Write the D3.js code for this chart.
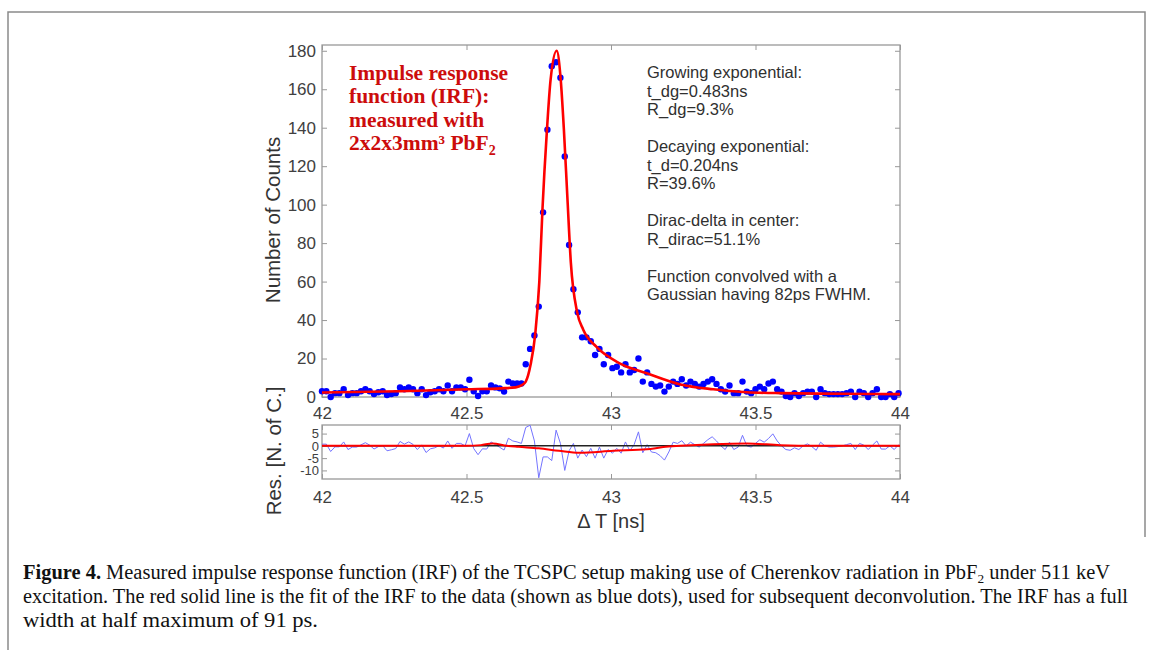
<!DOCTYPE html>
<html>
<head>
<meta charset="utf-8">
<title>IRF fit</title>
<script src="https://d3js.org/d3.v7.min.js"></script>
<style>
  body { margin: 0; background: #fff; }
  svg { display: block; }
  .tick text { font-family: "Liberation Sans", Arial, sans-serif; fill: #404040; }
  .tick line { stroke: #999; }
</style>
</head>
<body>
<svg id="visual" width="1153" height="650"></svg>
<script>
// histogram bins: start and width in ns
const binStart = 42, binWidth = 0.015;

// measured counts per bin (blue dots)
const counts = [
  3, 3, 0, 2, 2, 4, 1, 2, 2, 3,
  4, 3, 1.5, 2.5, 3, 1, 1.5, 2, 5, 4,
  5, 4, 2, 4, 1, 2.5, 3, 4, 3, 6,
  3, 5, 5, 4, 9, 3, 0.5, 3, 3, 6,
  5, 4.5, 2.8, 8, 7, 7, 7,
  17, 25, 32, 47, 96, 139, 172, 174, 166, 125, 79, 56, 44,
  31, 31, 29, 21.8, 25, 17, 21.8, 15, 15.7, 12.8,
  17, 12.8, 14, 20, 8, 12.8, 6.8, 5.4, 6, 2.8,
  5.4, 8, 6.8, 9.2, 6, 8, 6.8, 5.4, 6.8, 8,
  9.2, 6.8, 4, 2.8, 6, 2, 2, 8, 2.8, 2,
  4, 5.4, 4, 7, 8, 4, 2.8, 0.5, 0, 2,
  0.5, 2, 2.8, 2.8, 0, 4, 2, 1.5, 1.5, 1.5,
  1.5, 2, 2.8, 0, 2.8, 2, 0, 2, 4, 0,
  0, 1.5, 0, 2
];

// fitted IRF (red line)
const fitT = [42.0, 42.27, 42.5, 42.62, 42.67, 42.69, 42.705, 42.722, 42.738, 42.752, 42.763,
  42.778, 42.791, 42.812, 42.826, 42.837, 42.849, 42.861, 42.883, 42.904, 42.95, 43.03,
  43.124, 43.24, 43.354, 43.47, 43.585, 43.8, 44.0];
const fitV = [2.3, 3, 4, 4.5, 5, 6, 8, 17, 33, 60, 98,
  138, 165, 180, 165, 139, 104, 70, 44, 35, 26, 17.5,
  12.3, 6.5, 4, 2.5, 2, 1.7, 1.5];

// residuals per bin (thin blue line)
const resid = [
  0.7, 0.7, -2.3, -0.4, -0.4, 1.6, -1.5, -0.5, -0.5, 0.4,
  1.3, 0.3, -1.3, -0.3, 0.1, -2, -1.6, -1.1, 1.8, 0.7,
  1.6, 0.6, -1.5, 0.4, -2.7, -1.2, -0.8, 0.1, -0.9, 2,
  -1, 1, 1, 0, 5, -1.1, -3.6, -1.2, -1.3, 1.6,
  0.5, -0.6, -1.7, 3.1, 2, 1.6, 1, 7.5, 8.4, 2,
  -13, -4.5, -4.5, -6, 6.4, 1, -10, -2, 1, -5,
  -1.7, -4.4, -1, -5, -0.5, -5, -1.5, -3, -1, -3,
  1.6, -2, 0.5, 5.7, -2.8, 0.5, -2.5, -2.8, -4, -5.8,
  -2.5, 1.5, 1, 2.1, 0, 1.5, 0.5, -0.5, 1, 2.5,
  3.7, 2, 0, -1.5, 1.5, -1.5, -0.5, 4.3, 0, -0.5,
  1, 2.5, 1.5, 3, 4.9, 2, 0, -1.5, -1.8, -0.8,
  -1.5, 0, 0.8, -0.3, -1.8, 1.5, 0, -0.5, -0.5, -0.3,
  0, 0.5, 1, -1.5, 1, 0.3, -1.5, 0.3, 2, -1.3,
  -1.3, 0, -1.5, 0.5
];

// smoothed residual (red line in lower panel)
const resFitT = [42.0, 42.5, 42.55, 42.59, 42.64, 42.68, 42.75, 42.82, 42.89, 43.008, 43.124,
  43.181, 43.239, 43.354, 43.47, 43.585, 43.7, 44.0];
const resFitV = [0, 0, 0.3, 1, 0, -0.4, -1, -2, -2.8, -2, -1.4,
  -0.5, 0, 0.7, 1, 0.3, 0, 0];

const xTicks = [42, 42.5, 43, 43.5, 44];
const yTicks = [0, 20, 40, 60, 80, 100, 120, 140, 160, 180];
const rTicks = [5, 0, -5, -10];

const noteLines = [
  ["Growing exponential:", "t_dg=0.483ns", "R_dg=9.3%"],
  ["Decaying exponential:", "t_d=0.204ns", "R=39.6%"],
  ["Dirac-delta in center:", "R_dirac=51.1%"],
  ["Function convolved with a", "Gaussian having 82ps FWHM."]
];

const svg = d3.select("#visual");
const box = { left: 322, right: 900, top: 45, bottom: 397 };
const rbox = { top: 425, bottom: 479 };

const times = counts.map((_, i) => binStart + i * binWidth);

const x = d3.scaleLinear().domain([42, 44]).range([box.left, box.right]);
const y = d3.scaleLinear().domain([0, 183]).range([box.bottom, box.top]);
const yr = d3.scaleLinear().domain([-13.5, 8.5]).range([rbox.bottom, rbox.top]);

// figure frame
svg.append("path")
  .attr("d", "M8,650 L8,12 L1145,12 L1145,537")
  .attr("fill", "none").attr("stroke", "#8a8a8a").attr("stroke-width", 1.5);

const fmt = d => String(d);  // plain hyphen minus, as in the figure
function noDomain(g) { g.select(".domain").remove(); }

// ---- main panel ----
svg.append("g").attr("transform", `translate(0,${box.bottom})`)
  .call(d3.axisBottom(x).tickValues(xTicks).tickSize(-5).tickPadding(10).tickFormat(fmt))
  .call(noDomain).selectAll("text").style("font-size", "17px");
svg.append("g").attr("transform", `translate(0,${box.top})`)
  .call(d3.axisTop(x).tickValues(xTicks).tickSize(-5).tickFormat(""))
  .call(noDomain);
svg.append("g").attr("transform", `translate(${box.left},0)`)
  .call(d3.axisLeft(y).tickValues(yTicks).tickSize(-5).tickPadding(6).tickFormat(fmt))
  .call(noDomain).selectAll("text").style("font-size", "17px");
svg.append("g").attr("transform", `translate(${box.right},0)`)
  .call(d3.axisRight(y).tickValues(yTicks).tickSize(-5).tickFormat(""))
  .call(noDomain);

svg.append("rect")
  .attr("x", box.left).attr("y", box.top)
  .attr("width", box.right - box.left).attr("height", box.bottom - box.top)
  .attr("fill", "none").attr("stroke", "#999").attr("stroke-width", 1.3);

svg.append("g").selectAll("circle")
  .data(counts)
  .enter()
  .append("circle")
  .attr("cx", (d, i) => x(times[i]))
  .attr("cy", d => y(d))
  .attr("r", 3.2)
  .style("fill", "#0000ff");

const fitLine = d3.line().x((d, i) => x(fitT[i])).y(d => y(d)).curve(d3.curveMonotoneX);
svg.append("path")
  .datum(fitV)
  .attr("d", fitLine)
  .attr("fill", "none").attr("stroke", "#ff0000").attr("stroke-width", 2.6);

// red title
const title = svg.append("text")
  .attr("font-family", "'Liberation Serif', 'Times New Roman', serif")
  .attr("font-weight", "bold").attr("font-size", 21.5).attr("fill", "#cc0c0c");
["Impulse response", "function (IRF):", "measured with"].forEach((t, i) => {
  title.append("tspan").attr("x", 349).attr("y", 80 + i * 23.3).text(t);
});
title.append("tspan").attr("x", 349).attr("y", 80 + 3 * 23.3).text("2x2x3mm³ PbF");
title.append("tspan").attr("dy", 5).attr("font-size", 14).text("2");

// notes on the right
const notes = svg.append("text")
  .attr("font-family", "'Liberation Sans', Arial, sans-serif")
  .attr("font-size", 16.5).attr("fill", "#303030");
let ny = 78;
noteLines.forEach(block => {
  block.forEach(t => {
    notes.append("tspan").attr("x", 647).attr("y", ny).text(t);
    ny += 18.5;
  });
  ny += 18.5;
});

svg.append("text")
  .attr("transform", "translate(272,220) rotate(-90)")
  .attr("text-anchor", "middle").attr("dominant-baseline", "central")
  .attr("font-family", "'Liberation Sans', Arial, sans-serif")
  .attr("font-size", 20.5).attr("fill", "#333")
  .text("Number of Counts");

// ---- residual panel ----
svg.append("g").attr("transform", `translate(0,${rbox.bottom})`)
  .call(d3.axisBottom(x).tickValues(xTicks).tickSize(-5).tickPadding(12).tickFormat(fmt))
  .call(noDomain).selectAll("text").style("font-size", "17px");
svg.append("g").attr("transform", `translate(0,${rbox.top})`)
  .call(d3.axisTop(x).tickValues(xTicks).tickSize(-5).tickFormat(""))
  .call(noDomain);
svg.append("g").attr("transform", `translate(${box.left},0)`)
  .call(d3.axisLeft(yr).tickValues(rTicks).tickSize(-5).tickPadding(3).tickFormat(fmt))
  .call(noDomain).selectAll("text").style("font-size", "13px");
svg.append("g").attr("transform", `translate(${box.right},0)`)
  .call(d3.axisRight(yr).tickValues(rTicks).tickSize(-5).tickFormat(""))
  .call(noDomain);

svg.append("rect")
  .attr("x", box.left).attr("y", rbox.top)
  .attr("width", box.right - box.left).attr("height", rbox.bottom - rbox.top)
  .attr("fill", "none").attr("stroke", "#999").attr("stroke-width", 1.3);

const resLine = d3.line().x((d, i) => x(times[i])).y(d => yr(d));
svg.append("path")
  .datum(resid)
  .attr("d", resLine)
  .attr("fill", "none").attr("stroke", "#7474ff").attr("stroke-width", 1);

svg.append("line")
  .attr("x1", x(42)).attr("x2", x(44))
  .attr("y1", yr(0)).attr("y2", yr(0))
  .attr("stroke", "#222").attr("stroke-width", 1.5);

const resFitLine = d3.line().x((d, i) => x(resFitT[i])).y(d => yr(d)).curve(d3.curveMonotoneX);
svg.append("path")
  .datum(resFitV)
  .attr("d", resFitLine)
  .attr("fill", "none").attr("stroke", "#ff0000").attr("stroke-width", 2);

svg.append("text")
  .attr("transform", "translate(273,451) rotate(-90)")
  .attr("text-anchor", "middle").attr("dominant-baseline", "central")
  .attr("font-family", "'Liberation Sans', Arial, sans-serif")
  .attr("font-size", 20.5).attr("fill", "#333")
  .text("Res. [N. of C.]");

svg.append("text")
  .attr("x", 611).attr("y", 528)
  .attr("text-anchor", "middle")
  .attr("font-family", "'Liberation Sans', Arial, sans-serif")
  .attr("font-size", 20).attr("fill", "#333")
  .text("Δ T [ns]");

// ---- caption ----
const capFont = "'Liberation Serif', 'Times New Roman', serif";
const cap1 = svg.append("text")
  .attr("x", 23).attr("y", 579)
  .attr("font-family", capFont).attr("font-size", 20).attr("fill", "#111")
  .attr("textLength", 1087).attr("lengthAdjust", "spacingAndGlyphs");
cap1.append("tspan").attr("font-weight", "bold").text("Figure 4.");
cap1.append("tspan").text(" Measured impulse response function (IRF) of the TCSPC setup making use of Cherenkov radiation in PbF");
cap1.append("tspan").attr("dy", 4).attr("font-size", 13).text("2");
cap1.append("tspan").attr("dy", -4).text(" under 511 keV");

svg.append("text")
  .attr("x", 23).attr("y", 603)
  .attr("font-family", capFont).attr("font-size", 20).attr("fill", "#111")
  .attr("textLength", 1105).attr("lengthAdjust", "spacingAndGlyphs")
  .text("excitation. The red solid line is the fit of the IRF to the data (shown as blue dots), used for subsequent deconvolution. The IRF has a full");

svg.append("text")
  .attr("x", 23).attr("y", 627)
  .attr("font-family", capFont).attr("font-size", 20).attr("fill", "#111")
  .attr("textLength", 295).attr("lengthAdjust", "spacingAndGlyphs")
  .text("width at half maximum of 91 ps.");
</script>
</body>
</html>
